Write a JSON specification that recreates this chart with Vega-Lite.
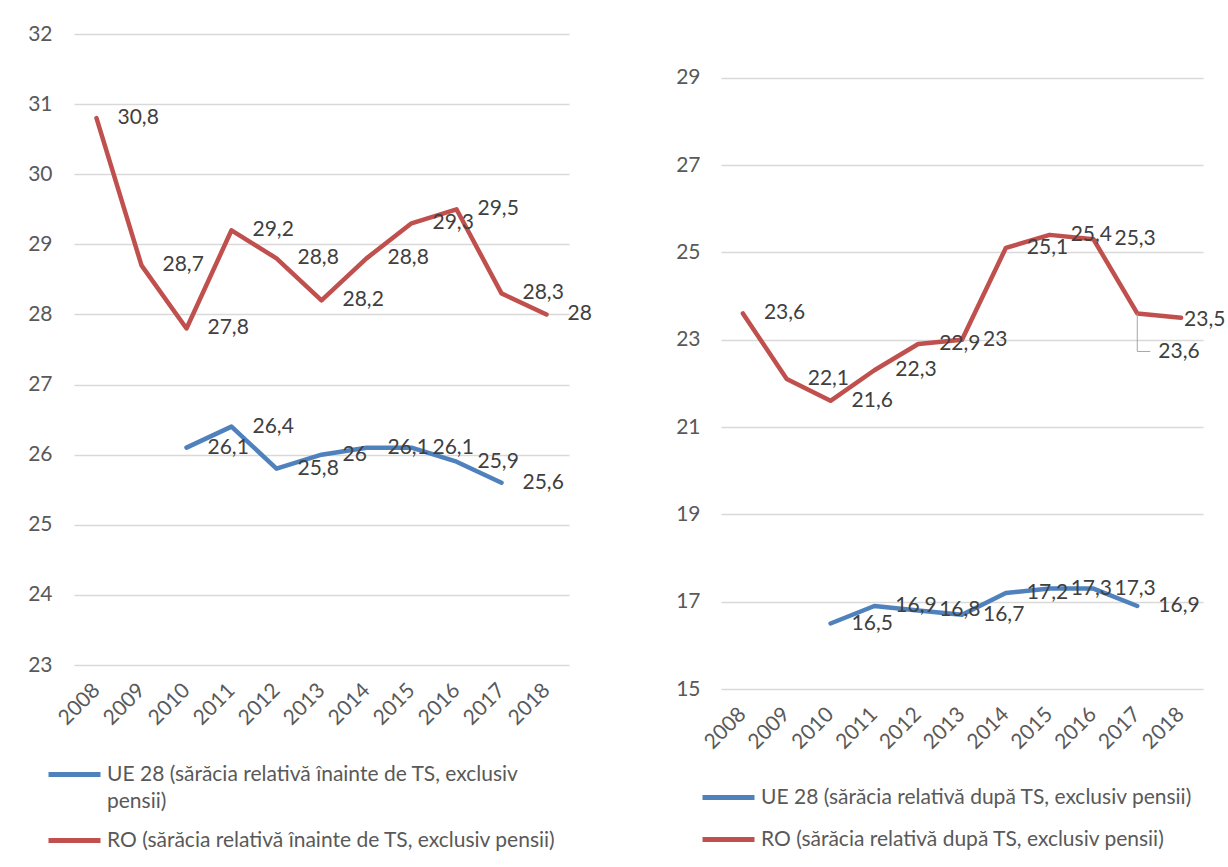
{
  "$schema": "https://vega.github.io/schema/vega-lite/v6.json",
  "padding": {"left": 27, "top": 23, "right": 0, "bottom": 0},
  "bounds": "flush",
  "spacing": 152,
  "config": {
    "locale": {"number": {"decimal": ",", "thousands": ".", "grouping": [3], "currency": ["", " €"]}},
    "view": {"stroke": null},
    "font": "Lato",
    "style": {"guide-label": {"lineHeight": 27}},
    "axis": {"labelFont": "Lato", "labelFontSize": 21, "labelColor": "#595959", "domain": false, "ticks": false, "title": null},
    "legend": {"labelFont": "Lato", "labelFontSize": 21, "labelColor": "#595959", "symbolType": "stroke", "symbolSize": 2704, "symbolStrokeWidth": 5, "labelOffset": 4, "labelLimit": 700, "orient": "none", "direction": "vertical"}
  },
  "resolve": {"scale": {"color": "independent", "x": "independent", "y": "independent"}, "legend": {"color": "independent"}},
  "datasets": {
    "before": [
      {"year": "2008", "series": "RO (sărăcia relativă înainte de TS, exclusiv pensii)", "value": 30.8},
      {"year": "2009", "series": "RO (sărăcia relativă înainte de TS, exclusiv pensii)", "value": 28.7},
      {"year": "2010", "series": "RO (sărăcia relativă înainte de TS, exclusiv pensii)", "value": 27.8},
      {"year": "2011", "series": "RO (sărăcia relativă înainte de TS, exclusiv pensii)", "value": 29.2},
      {"year": "2012", "series": "RO (sărăcia relativă înainte de TS, exclusiv pensii)", "value": 28.8},
      {"year": "2013", "series": "RO (sărăcia relativă înainte de TS, exclusiv pensii)", "value": 28.2},
      {"year": "2014", "series": "RO (sărăcia relativă înainte de TS, exclusiv pensii)", "value": 28.8},
      {"year": "2015", "series": "RO (sărăcia relativă înainte de TS, exclusiv pensii)", "value": 29.3},
      {"year": "2016", "series": "RO (sărăcia relativă înainte de TS, exclusiv pensii)", "value": 29.5},
      {"year": "2017", "series": "RO (sărăcia relativă înainte de TS, exclusiv pensii)", "value": 28.3},
      {"year": "2018", "series": "RO (sărăcia relativă înainte de TS, exclusiv pensii)", "value": 28},
      {"year": "2010", "series": "UE 28 (sărăcia relativă înainte de TS, exclusiv pensii)", "value": 26.1},
      {"year": "2011", "series": "UE 28 (sărăcia relativă înainte de TS, exclusiv pensii)", "value": 26.4},
      {"year": "2012", "series": "UE 28 (sărăcia relativă înainte de TS, exclusiv pensii)", "value": 25.8},
      {"year": "2013", "series": "UE 28 (sărăcia relativă înainte de TS, exclusiv pensii)", "value": 26},
      {"year": "2014", "series": "UE 28 (sărăcia relativă înainte de TS, exclusiv pensii)", "value": 26.1},
      {"year": "2015", "series": "UE 28 (sărăcia relativă înainte de TS, exclusiv pensii)", "value": 26.1},
      {"year": "2016", "series": "UE 28 (sărăcia relativă înainte de TS, exclusiv pensii)", "value": 25.9},
      {"year": "2017", "series": "UE 28 (sărăcia relativă înainte de TS, exclusiv pensii)", "value": 25.6}
    ],
    "after": [
      {"year": "2008", "series": "RO (sărăcia relativă după TS, exclusiv pensii)", "value": 23.6},
      {"year": "2009", "series": "RO (sărăcia relativă după TS, exclusiv pensii)", "value": 22.1},
      {"year": "2010", "series": "RO (sărăcia relativă după TS, exclusiv pensii)", "value": 21.6},
      {"year": "2011", "series": "RO (sărăcia relativă după TS, exclusiv pensii)", "value": 22.3},
      {"year": "2012", "series": "RO (sărăcia relativă după TS, exclusiv pensii)", "value": 22.9},
      {"year": "2013", "series": "RO (sărăcia relativă după TS, exclusiv pensii)", "value": 23},
      {"year": "2014", "series": "RO (sărăcia relativă după TS, exclusiv pensii)", "value": 25.1},
      {"year": "2015", "series": "RO (sărăcia relativă după TS, exclusiv pensii)", "value": 25.4},
      {"year": "2016", "series": "RO (sărăcia relativă după TS, exclusiv pensii)", "value": 25.3},
      {"year": "2017", "series": "RO (sărăcia relativă după TS, exclusiv pensii)", "value": 23.6},
      {"year": "2018", "series": "RO (sărăcia relativă după TS, exclusiv pensii)", "value": 23.5},
      {"year": "2010", "series": "UE 28 (sărăcia relativă după TS, exclusiv pensii)", "value": 16.5},
      {"year": "2011", "series": "UE 28 (sărăcia relativă după TS, exclusiv pensii)", "value": 16.9},
      {"year": "2012", "series": "UE 28 (sărăcia relativă după TS, exclusiv pensii)", "value": 16.8},
      {"year": "2013", "series": "UE 28 (sărăcia relativă după TS, exclusiv pensii)", "value": 16.7},
      {"year": "2014", "series": "UE 28 (sărăcia relativă după TS, exclusiv pensii)", "value": 17.2},
      {"year": "2015", "series": "UE 28 (sărăcia relativă după TS, exclusiv pensii)", "value": 17.3},
      {"year": "2016", "series": "UE 28 (sărăcia relativă după TS, exclusiv pensii)", "value": 17.3},
      {"year": "2017", "series": "UE 28 (sărăcia relativă după TS, exclusiv pensii)", "value": 16.9}
    ]
  },
  "hconcat": [
    {
      "width": 495,
      "height": 631,
      "data": {"name": "before"},
      "encoding": {
        "x": {"field": "year", "type": "ordinal", "axis": {"labelAngle": -45, "labelAlign": "right", "labelBaseline": "middle", "labelPadding": 22, "grid": false}},
        "y": {"field": "value", "type": "quantitative", "scale": {"domain": [23, 32], "nice": false, "zero": false}, "axis": {"values": [23, 24, 25, 26, 27, 28, 29, 30, 31, 32], "grid": true, "gridColor": "#d9d9d9", "gridWidth": 1.3, "labelPadding": 22}}
      },
      "layer": [
        {
          "mark": {"type": "line", "strokeWidth": 4.5, "strokeCap": "round", "strokeJoin": "round"},
          "encoding": {
            "color": {"field": "series", "type": "nominal",
              "scale": {"domain": ["UE 28 (sărăcia relativă înainte de TS, exclusiv pensii)", "RO (sărăcia relativă înainte de TS, exclusiv pensii)"], "range": ["#4f81bd", "#c0504d"]},
              "legend": {"title": null, "legendX": -28, "legendY": 712, "rowPadding": -2,
                "labelExpr": "indexof(datum.label, 'UE 28') == 0 ? ['UE 28 (sărăcia relativă înainte de TS, exclusiv', 'pensii)'] : datum.label"}}
          }
        },
        {
          "mark": {"type": "text", "align": "left", "dx": 21, "fontSize": 21, "color": "#404040", "font": "Lato"},
          "encoding": {"text": {"field": "value", "type": "quantitative", "format": ".1~f"}}
        }
      ]
    },
    {
      "width": 482,
      "height": 655,
      "data": {"name": "after"},
      "encoding": {
        "x": {"field": "year", "type": "ordinal", "axis": {"labelAngle": -45, "labelAlign": "right", "labelBaseline": "middle", "labelPadding": 22, "grid": false}},
        "y": {"field": "value", "type": "quantitative", "scale": {"domain": [15, 30], "nice": false, "zero": false}, "axis": {"values": [15, 17, 19, 21, 23, 25, 27, 29], "grid": true, "gridColor": "#d9d9d9", "gridWidth": 1.3, "labelPadding": 21}}
      },
      "layer": [
        {
          "mark": {"type": "line", "strokeWidth": 4.5, "strokeCap": "round", "strokeJoin": "round"},
          "encoding": {
            "color": {"field": "series", "type": "nominal",
              "scale": {"domain": ["UE 28 (sărăcia relativă după TS, exclusiv pensii)", "RO (sărăcia relativă după TS, exclusiv pensii)"], "range": ["#4f81bd", "#c0504d"]},
              "legend": {"title": null, "legendX": -21, "legendY": 735, "rowPadding": 3}}
          }
        },
        {
          "transform": [{"filter": "!((datum.year == '2017' || datum.year == '2018') && indexof(datum.series, 'RO') == 0)"}],
          "mark": {"type": "text", "align": "left", "dx": 21, "fontSize": 21, "color": "#404040", "font": "Lato"},
          "encoding": {"text": {"field": "value", "type": "quantitative", "format": ".1~f"}}
        },
        {
          "transform": [{"filter": "datum.year == '2018' && indexof(datum.series, 'RO') == 0"}],
          "mark": {"type": "text", "align": "left", "dx": 3, "dy": 2, "fontSize": 21, "color": "#404040", "font": "Lato"},
          "encoding": {"text": {"field": "value", "type": "quantitative", "format": ".1~f"}}
        },
        {
          "transform": [{"filter": "datum.year == '2017' && indexof(datum.series, 'RO') == 0"}],
          "mark": {"type": "text", "align": "left", "dx": 21, "dy": 39, "fontSize": 21, "color": "#404040", "font": "Lato"},
          "encoding": {"text": {"field": "value", "type": "quantitative", "format": ".1~f"}}
        },
        {
          "transform": [{"filter": "datum.year == '2017' && indexof(datum.series, 'RO') == 0"}],
          "mark": {"type": "rule", "color": "#a6a6a6", "strokeWidth": 1, "y2Offset": 38},
          "encoding": {"y2": {"field": "value"}}
        },
        {
          "transform": [{"filter": "datum.year == '2017' && indexof(datum.series, 'RO') == 0"}],
          "mark": {"type": "rule", "color": "#a6a6a6", "strokeWidth": 1, "yOffset": 38, "x2Offset": 13},
          "encoding": {"x2": {"field": "year"}}
        }
      ]
    }
  ]
}
